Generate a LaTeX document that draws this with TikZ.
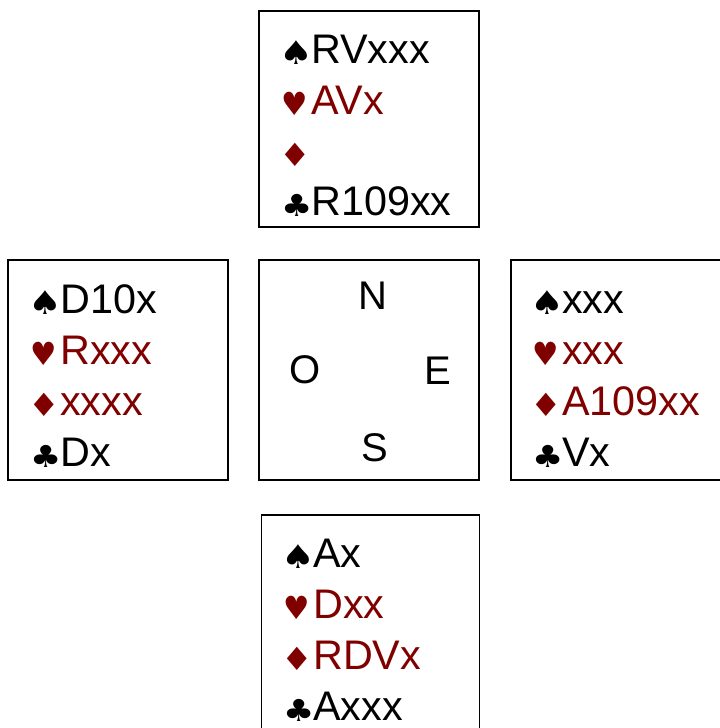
\documentclass[tikz,border=0pt]{standalone}
\usepackage{fontspec}
\setmainfont{Liberation Sans}
\newfontfamily\suitfont{DejaVu Sans}
\definecolor{cardred}{RGB}{128,0,0}
\newcommand{\suitmark}[4]{\makebox[21pt][l]{\hspace*{#1}\raisebox{-1pt}{\scalebox{#2}[#3]{\suitfont\fontsize{24}{24}\selectfont #4}}}}
\newcommand{\spademark}{\suitmark{-2.6pt}{1.18}{1.02}{♠}}
\newcommand{\heartmark}{\suitmark{-1.2pt}{0.92}{1.0}{♥}}
\newcommand{\diamondmark}{\suitmark{-2.5pt}{1.1}{1.0}{♦}}
\newcommand{\clubmark}{\suitmark{-1.6pt}{1.09}{0.95}{♣}}
\tikzset{
  handbox/.style={draw,line width=0.9pt,minimum width=165pt,minimum height=165pt,inner sep=0pt},
  cardline/.style={anchor=base west,font=\fontsize{31}{31}\selectfont,inner sep=0pt},
  redline/.style={cardline,text=cardred},
  compass/.style={font=\fontsize{30}{30}\selectfont,inner sep=0pt}
}
\begin{document}
\begin{tikzpicture}[x=0.75pt,y=-0.75pt]
\useasboundingbox (0,0) rectangle (720,728);

\node [handbox,minimum height=162pt] (north) at (369,119) {};
\node [handbox] (west) at (118,370) {};
\node [handbox] (centre) at (369,370) {};
\node [handbox] (east) at (621,370) {};
\node [handbox,minimum width=163pt] (south) at (370.5,625) {};

% north hand
\node [cardline] (n1) at (283,63) {\spademark RVxxx};
\node [redline] (n2) at (283,114) {\heartmark AVx};
\node [redline] (n3) at (283,165) {\diamondmark};
\node [cardline] (n4) at (283,215) {\clubmark R109xx};

% west hand
\node [cardline] (w1) at (32,313) {\spademark D10x};
\node [redline] (w2) at (32,364) {\heartmark Rxxx};
\node [redline] (w3) at (32,415) {\diamondmark xxxx};
\node [cardline] (w4) at (32,466) {\clubmark Dx};

% east hand
\node [cardline] (e1) at (534,313) {\spademark xxx};
\node [redline] (e2) at (534,364) {\heartmark xxx};
\node [redline] (e3) at (534,415) {\diamondmark A109xx};
\node [cardline] (e4) at (534,466) {\clubmark Vx};

% south hand
\node [cardline] (s1) at (285,567) {\spademark Ax};
\node [redline] (s2) at (285,618) {\heartmark Dxx};
\node [redline] (s3) at (285,669) {\diamondmark RDVx};
\node [cardline] (s4) at (285,720) {\clubmark Axxx};

% table
\node [compass] (cn) at (373,296) {N};
\node [compass] (cw) at (305,370) {O};
\node [compass] (ce) at (438,371) {E};
\node [compass] (cs) at (374.5,448) {S};

\end{tikzpicture}
\end{document}
